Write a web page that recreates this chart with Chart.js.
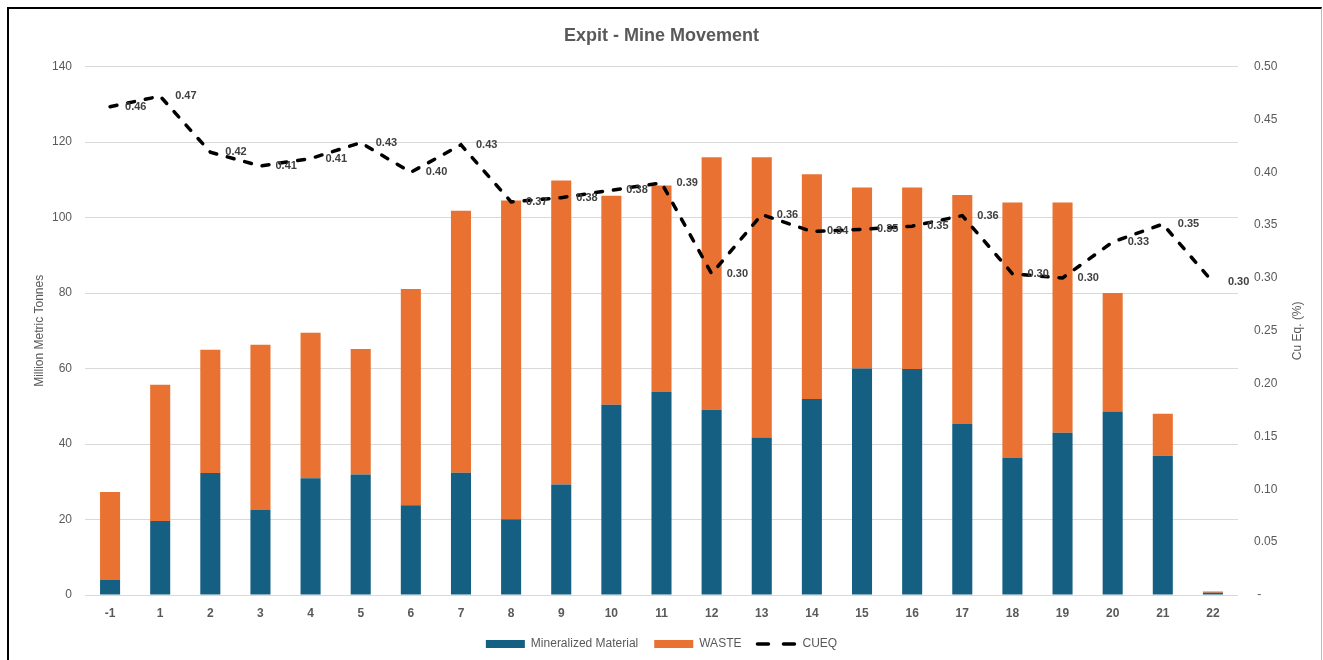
<!DOCTYPE html>
<html>
<head>
<meta charset="utf-8">
<script src="https://cdn.jsdelivr.net/npm/chart.js@4"></script>
<style>
   body { margin: 0; background: #fff; }
   #wrap { position: relative; width: 1323px; height: 660px; }
   #frame {
      position: absolute; left: 7px; top: 7px; width: 1312px; height: 660px;
      border-top: 2px solid #000; border-left: 2px solid #000; border-right: 1px solid #bbb;
      pointer-events: none;
   }
</style>
</head>
<body>
<div id="wrap">
   <canvas id="myChart" width="1323" height="660"></canvas>
   <div id="frame"></div>
</div>
<script>
const years = ["-1", "1", "2", "3", "4", "5", "6", "7", "8", "9", "10", "11", "12", "13", "14", "15", "16", "17", "18", "19", "20", "21", "22"];
const mineralized = [4.0, 19.6, 32.3, 22.5, 30.9, 31.9, 23.8, 32.4, 20.1, 29.3, 50.4, 53.8, 49.1, 41.7, 51.9, 60.0, 59.9, 45.3, 36.3, 43.0, 48.6, 36.9, 0.6];
const waste = [23.3, 36.1, 32.7, 43.8, 38.6, 33.3, 57.3, 69.4, 84.4, 80.5, 55.4, 54.7, 66.9, 74.3, 59.6, 48.0, 48.1, 60.7, 67.7, 61.0, 31.4, 11.1, 0.3];
const cueq = [0.462, 0.472, 0.419, 0.406, 0.413, 0.428, 0.400, 0.426, 0.372, 0.376, 0.383, 0.390, 0.304, 0.360, 0.344, 0.346, 0.349, 0.359, 0.304, 0.300, 0.334, 0.351, 0.296];

const leftTicks = [0, 20, 40, 60, 80, 100, 120, 140];
const rightTicks = [0, 0.05, 0.1, 0.15, 0.2, 0.25, 0.3, 0.35, 0.4, 0.45, 0.5];

const font = "'Liberation Sans', Arial, sans-serif";
const grey = "#595959";

// labels on the CUEQ line + axis titles (right one reads bottom-to-top)
const extras = {
   id: "extras",
   afterDatasetsDraw(chart) {
      const ctx = chart.ctx;
      const meta = chart.getDatasetMeta(2);
      ctx.save();
      ctx.font = "bold 11px " + font;
      ctx.fillStyle = "#404040";
      ctx.textAlign = "left";
      ctx.textBaseline = "middle";
      meta.data.forEach((pt, i) => {
         ctx.fillText(cueq[i].toFixed(2), pt.x + 15, pt.y);
      });
      ctx.restore();
   },
   afterDraw(chart) {
      const ctx = chart.ctx;
      const area = chart.chartArea;
      const mid = (area.top + area.bottom) / 2;
      ctx.save();
      ctx.font = "12px " + font;
      ctx.fillStyle = grey;
      ctx.textAlign = "center";
      ctx.textBaseline = "middle";
      ctx.translate(40, mid);
      ctx.rotate(-Math.PI / 2);
      ctx.fillText("Million Metric Tonnes", 0, 0);
      ctx.restore();
      ctx.save();
      ctx.font = "12px " + font;
      ctx.fillStyle = grey;
      ctx.textAlign = "center";
      ctx.textBaseline = "middle";
      ctx.translate(1298, mid);
      ctx.rotate(-Math.PI / 2);
      ctx.fillText("Cu Eq. (%)", 0, 0);
      ctx.restore();
   },
};

const ctx = document.getElementById("myChart");
new Chart(ctx, {
   type: "bar",
   data: {
      labels: years,
      datasets: [
         {
            label: "Mineralized Material",
            data: mineralized,
            backgroundColor: "#156082",
            stack: "tonnes",
            yAxisID: "y",
            order: 1,
            barPercentage: 0.5,
            categoryPercentage: 0.8,
         },
         {
            label: "WASTE",
            data: waste,
            backgroundColor: "#E97132",
            stack: "tonnes",
            yAxisID: "y",
            order: 1,
            barPercentage: 0.5,
            categoryPercentage: 0.8,
         },
         {
            type: "line",
            label: "CUEQ",
            data: cueq,
            yAxisID: "y1",
            borderColor: "#000",
            backgroundColor: "#000",
            borderWidth: 3.5,
            borderDash: [7, 11],
            borderCapStyle: "round",
            pointRadius: 0,
            tension: 0,
            order: 0,
         },
      ],
   },
   options: {
      responsive: false,
      animation: false,
      layout: { padding: { left: 0, right: 0, top: 0, bottom: 0 } },
      plugins: {
         title: {
            display: true,
            text: "Expit - Mine Movement",
            color: grey,
            font: { family: font, size: 18, weight: "bold" },
            padding: { top: 25, bottom: 20 },
         },
         legend: {
            position: "bottom",
            labels: {
               color: grey,
               font: { family: font, size: 12 },
               usePointStyle: true,
               pointStyleWidth: 39,
               boxHeight: 8,
               padding: 16,
               sort: (a, b) => a.datasetIndex - b.datasetIndex,
               generateLabels(chart) {
                  const items = Chart.defaults.plugins.legend.labels.generateLabels(chart);
                  items.forEach((it) => {
                     if (it.datasetIndex < 2) {
                        it.pointStyle = "rect";
                        it.lineWidth = 0;
                     } else {
                        it.pointStyle = "line";
                        it.strokeStyle = "#000";
                        it.lineWidth = 3.5;
                        it.lineDash = [11, 15];
                        it.lineCap = "round";
                     }
                  });
                  return items;
               },
            },
         },
         tooltip: { enabled: false },
      },
      scales: {
         x: {
            stacked: true,
            grid: { display: false, drawTicks: false },
            border: { display: false },
            ticks: {
               color: grey,
               font: { family: font, size: 12, weight: "bold" },
               padding: 11,
               maxRotation: 0,
            },
            afterFit(scale) { scale.height = 27; },
         },
         y: {
            stacked: true,
            position: "left",
            min: 0,
            max: 140,
            afterBuildTicks(scale) { scale.ticks = leftTicks.map((v) => ({ value: v })); },
            grid: { color: "#d9d9d9", lineWidth: 1, drawTicks: false },
            border: { display: false },
            ticks: {
               color: grey,
               font: { family: font, size: 12 },
               padding: 13,
            },
            afterFit(scale) { scale.width = 85; },
         },
         y1: {
            position: "right",
            min: 0,
            max: 0.5,
            afterBuildTicks(scale) { scale.ticks = rightTicks.map((v) => ({ value: v })); },
            grid: { display: false, drawTicks: false },
            border: { display: false },
            ticks: {
               color: grey,
               font: { family: font, size: 12 },
               padding: 16,
               callback: (v) => (v === 0 ? " -" : v.toFixed(2)),
            },
            afterFit(scale) { scale.width = 85; },
         },
      },
   },
   plugins: [extras],
});
</script>
</body>
</html>
